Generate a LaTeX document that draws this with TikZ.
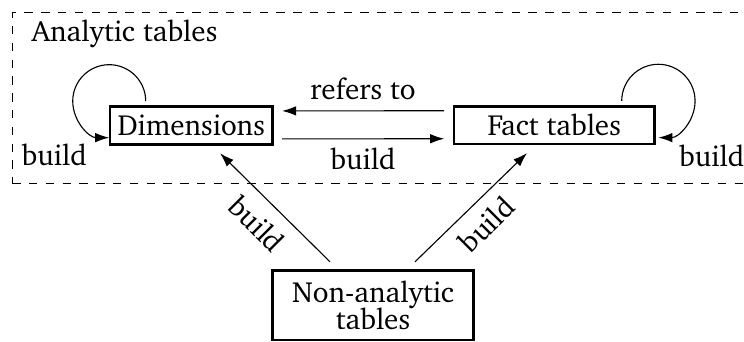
\documentclass[tikz,border=0pt]{standalone}
\usepackage[T1]{fontenc}
\usepackage{charter}
\usetikzlibrary{arrows.meta,calc}
\begin{document}
\fontsize{10.4pt}{12pt}\selectfont
\begin{tikzpicture}[x=0.35714pt,y=0.35714pt,
  box/.style={draw,line width=0.95pt,inner sep=0pt,align=center},
  conn/.style={line width=0.4pt,-{Latex[length=5pt,width=3.4pt]}},
  lbl/.style={inner sep=0pt}]
\useasboundingbox (0,0) rectangle (744,341);
% frame
\node[draw,dashed,line width=0.4pt,inner sep=0pt,minimum width=267.2pt,minimum height=60.9pt,anchor=north west] (frame) at (11.7,328.7) {};
\node[lbl,anchor=base west] (title) at (31,299.3) {Analytic tables};
% boxes
\node[box,minimum width=57.96pt,minimum height=13.43pt] (dim) at (191.2,215.5) {Dimensions};
\node[box,minimum width=71.68pt,minimum height=13.43pt] (fact) at (554.3,215.7) {Fact tables};
\node[box,minimum width=71.64pt,minimum height=24.75pt,font=\fontsize{10.4pt}{9.9pt}\selectfont] (non) at (373,35.6) {Non-analytic\\tables};
% horizontal arrows
\draw[conn,shorten <=3pt,shorten >=3pt] ([yshift=5.2pt]fact.west) -- ([yshift=5.2pt]dim.east);
\draw[conn,shorten <=3pt,shorten >=3pt] ([yshift=-4.8pt]dim.east) -- ([yshift=-4.8pt]fact.west);
\node[lbl,anchor=base] (lref) at (363,241.7) {refers to};
\node[lbl,anchor=base] (lmid) at (363,171) {build};
% diagonal arrows
\draw[conn,shorten <=3.9pt,shorten >=3.9pt] ([xshift=-12.6pt]non.north) -- ([xshift=7.54pt]dim.south);
\draw[conn,shorten <=3.9pt,shorten >=3.9pt] ([xshift=12.2pt]non.north) -- ([xshift=-6.96pt]fact.south);
\node[lbl,rotate=-45] (ldl) at (257,117) {build};
\node[lbl,rotate=45] (ldr) at (486.5,116.5) {build};
% loops
\draw[conn] ([xshift=-16.25pt,yshift=1.5pt]dim.north) arc[start angle=0,end angle=270,radius=13.03pt];
\draw[conn] ([xshift=24.07pt,yshift=1.5pt]fact.north) arc[start angle=180,end angle=-90,radius=13.1pt];
\node[lbl,anchor=base] (lloopl) at (54.2,175) {build};
\node[lbl,anchor=base] (lloopr) at (711.7,174.3) {build};
\end{tikzpicture}
\end{document}
